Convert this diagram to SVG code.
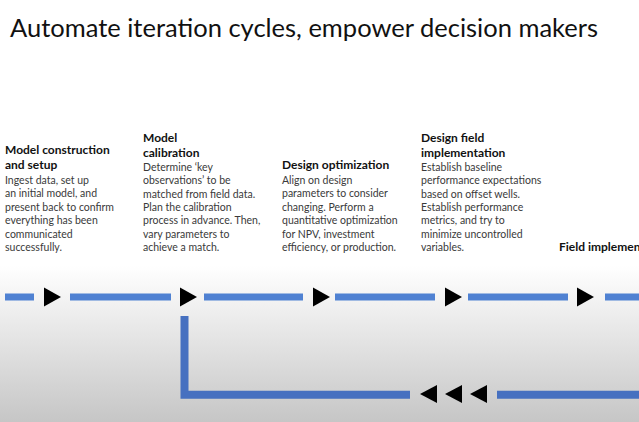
<svg xmlns="http://www.w3.org/2000/svg" xmlns:xlink="http://www.w3.org/1999/xlink" width="639" height="422" viewBox="0 0 639 422">
  <style>
    .title { font-family: Lato, "Open Sans", sans-serif; font-size: 25.5px; fill: #111111; }
    .head { font-family: Lato, "Open Sans", sans-serif; font-size: 12px; font-weight: bold; fill: #111111; }
    .body { font-family: Lato, "Open Sans", sans-serif; font-size: 10.5px; fill: #3a3a3a; }
    .flow { stroke: #4f81d2; stroke-width: 7; fill: none; }
    .back { stroke: #4670c0; stroke-width: 8; fill: none; }
    .tip { fill: #000000; }
  </style>
  <defs>
    <linearGradient id="bg" x1="0" y1="0" x2="0" y2="422" gradientUnits="userSpaceOnUse">
      <stop offset="0" stop-color="#ffffff"/>
      <stop offset="0.63" stop-color="#ffffff"/>
      <stop offset="1" stop-color="#c6c6c6"/>
    </linearGradient>
    <polygon id="arrR" points="0,-9.5 17,0 0,9.5"/>
    <polygon id="arrL" points="17,-9 0,0 17,9"/>
  </defs>
  <rect x="0" y="0" width="639" height="422" fill="url(#bg)"/>

  <g id="title">
    <text class="title" x="10" y="37">Automate iteration cycles, empower decision makers</text>
  </g>

  <g id="step1">
    <text class="head"><tspan x="5" y="154">Model construction</tspan><tspan x="5" y="169">and setup</tspan></text>
    <text class="body"><tspan x="5" y="183.5">Ingest data, set up</tspan><tspan x="5" y="197">an initial model, and</tspan><tspan x="5" y="210.5">present back to confirm</tspan><tspan x="5" y="224">everything has been</tspan><tspan x="5" y="237.5">communicated</tspan><tspan x="5" y="251">successfully.</tspan></text>
  </g>

  <g id="step2">
    <text class="head"><tspan x="143" y="141.5">Model</tspan><tspan x="143" y="156.5">calibration</tspan></text>
    <text class="body"><tspan x="143" y="170.8">Determine ‘key</tspan><tspan x="143" y="184.2">observations’ to be</tspan><tspan x="143" y="197.6">matched from field data.</tspan><tspan x="143" y="211">Plan the calibration</tspan><tspan x="143" y="224.4">process in advance. Then,</tspan><tspan x="143" y="237.8">vary parameters to</tspan><tspan x="143" y="251.2">achieve a match.</tspan></text>
  </g>

  <g id="step3">
    <text class="head"><tspan x="282" y="169">Design optimization</tspan></text>
    <text class="body"><tspan x="282" y="183.5">Align on design</tspan><tspan x="282" y="197">parameters to consider</tspan><tspan x="282" y="210.5">changing. Perform a</tspan><tspan x="282" y="224">quantitative optimization</tspan><tspan x="282" y="237.5">for NPV, investment</tspan><tspan x="282" y="251">efficiency, or production.</tspan></text>
  </g>

  <g id="step4">
    <text class="head"><tspan x="421" y="141.5">Design field</tspan><tspan x="421" y="156.5">implementation</tspan></text>
    <text class="body"><tspan x="421" y="170.8">Establish baseline</tspan><tspan x="421" y="184.2">performance expectations</tspan><tspan x="421" y="197.6">based on offset wells.</tspan><tspan x="421" y="211">Establish performance</tspan><tspan x="421" y="224.4">metrics, and try to</tspan><tspan x="421" y="237.8">minimize uncontrolled</tspan><tspan x="421" y="251.2">variables.</tspan></text>
  </g>

  <g id="step5">
    <text class="head" x="559" y="251">Field implementation</text>
  </g>

  <g id="connectors">
    <line class="flow" x1="5" y1="297" x2="34" y2="297"/>
    <line class="flow" x1="70" y1="297" x2="171" y2="297"/>
    <line class="flow" x1="204" y1="297" x2="303" y2="297"/>
    <line class="flow" x1="335" y1="297" x2="435" y2="297"/>
    <line class="flow" x1="468" y1="297" x2="568" y2="297"/>
    <line class="flow" x1="605" y1="297" x2="645" y2="297"/>
    <use href="#arrR" class="tip" x="44" y="297"/>
    <use href="#arrR" class="tip" x="180" y="297"/>
    <use href="#arrR" class="tip" x="313" y="297"/>
    <use href="#arrR" class="tip" x="445" y="297"/>
    <use href="#arrR" class="tip" x="577" y="297"/>
    <polyline class="back" points="184.5,316 184.5,394.7 410,394.7"/>
    <line class="back" x1="497" y1="394.7" x2="645" y2="394.7"/>
    <use href="#arrL" class="tip" x="420" y="394"/>
    <use href="#arrL" class="tip" x="445" y="394"/>
    <use href="#arrL" class="tip" x="470" y="394"/>
  </g>
</svg>
